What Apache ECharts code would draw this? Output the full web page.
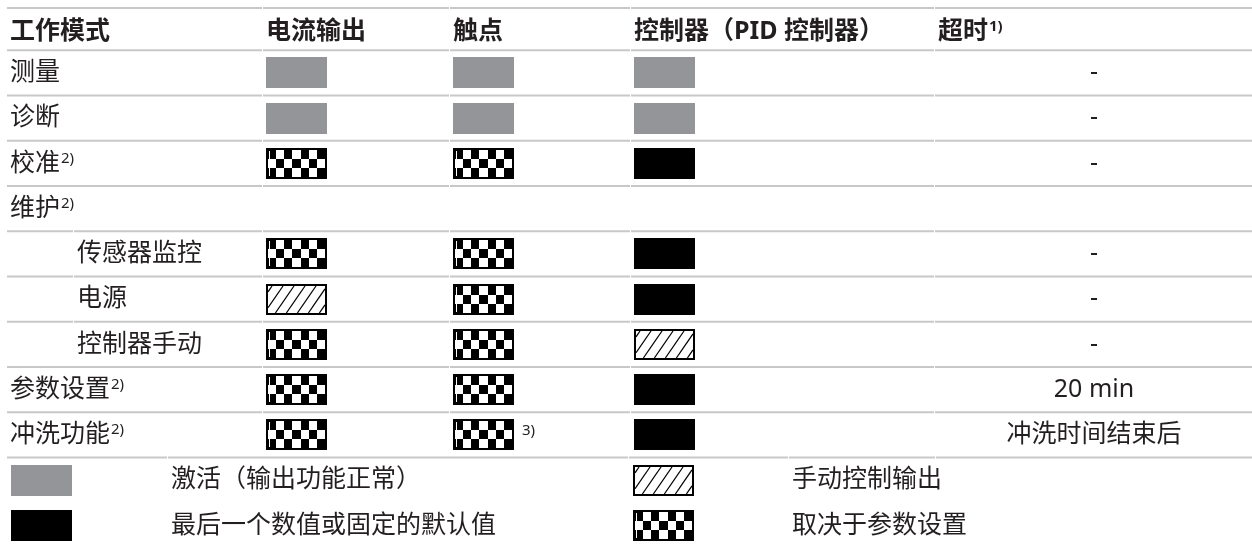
<!DOCTYPE html>
<html><head><meta charset="utf-8">
<script src="https://cdn.jsdelivr.net/npm/echarts@6/dist/echarts.min.js"></script>
<style>html,body{margin:0;padding:0;background:#fff}#c{width:1252px;height:548px}</style>
</head><body><div id="c"></div>
<script>
// ---- data ----
const headers = ['工作模式', '电流输出', '触点', '控制器（PID 控制器）', '超时'];
const headerNotes = ['', '', '', '', '1)'];
const modes = ['测量', '诊断', '校准', '维护', '传感器监控', '电源', '控制器手动', '参数设置', '冲洗功能'];
const modeNotes = ['', '', '2)', '2)', '', '', '', '2)', '2)'];
const modeLevel = [0, 0, 0, 0, 1, 1, 1, 0, 0];
const currentOutput = ['active', 'active', 'param', null, 'param', 'manual', 'param', 'param', 'param'];
const contacts = ['active', 'active', 'param', null, 'param', 'param', 'param', 'param', 'param'];
const contactNotes = ['', '', '', '', '', '', '', '', '3)'];
const controller = ['active', 'active', 'last', null, 'last', 'last', 'manual', 'last', 'last'];
const timeouts = ['-', '-', '-', '', '-', '-', '-', '20 min', '冲洗时间结束后'];
const legendKinds = ['active', 'manual', 'last', 'param'];
const legendLabels = ['激活（输出功能正常）', '手动控制输出', '最后一个数值或固定的默认值', '取决于参数设置'];

// ---- layout / style ----
const COL_X = [10, 266, 453, 634, 938];
const INDENT_X = 77;
const TIMEOUT_CX = 1094;
const LEGEND_BOX_X = [11, 633];
const LEGEND_TEXT_X = [171, 792];
const BOX_W = 61, BOX_H = 31;
const FONT = '"Noto Sans", "Noto Sans CJK SC", sans-serif';
const FS = 25;
const NOTE_FS = 15;
const TEXT_COLOR = '#231f20';
const FILL = { active: '#939598', last: '#000000' };
const RULE_COLOR = '#c8c8c8';
const HEADER_SHIFT = 3;
const BASE_GAPS = [262, 449, 630, 934];

const rowKeys = ['header'].concat(modes, ['legend1', 'legend2']);

// build cells
const cells = [];
headers.forEach((h, i) => cells.push({ kind: 'text', x: COL_X[i], row: 0, text: h, note: headerNotes[i], bold: true, align: 'left' }));
modes.forEach((m, i) => {
  const r = i + 1;
  cells.push({ kind: 'text', x: modeLevel[i] ? INDENT_X : COL_X[0], row: r, text: m, note: modeNotes[i], align: 'left' });
  if (currentOutput[i]) cells.push({ kind: 'box', x: COL_X[1], row: r, box: currentOutput[i] });
  if (contacts[i]) cells.push({ kind: 'box', x: COL_X[2], row: r, box: contacts[i], note: contactNotes[i] });
  if (controller[i]) cells.push({ kind: 'box', x: COL_X[3], row: r, box: controller[i] });
  if (timeouts[i]) cells.push({ kind: 'text', x: TIMEOUT_CX, row: r, text: timeouts[i], align: 'center' });
});
legendKinds.forEach((k, i) => {
  const r = 10 + Math.floor(i / 2), side = i % 2;
  cells.push({ kind: 'box', x: LEGEND_BOX_X[side], row: r, box: k });
  cells.push({ kind: 'text', x: LEGEND_TEXT_X[side], row: r, text: legendLabels[i], align: 'left' });
});

// rules: index k = top edge of row k
const rules = [];
for (let k = 0; k <= 10; k++) {
  let gaps = BASE_GAPS.slice();
  if (k >= 5 && k <= 7) gaps = [73].concat(gaps);
  if (k === 10) gaps = [167, 628, 788, 935];
  rules.push({ row: k, gaps: gaps });
}

function boxEls(kind, x0, yc) {
  const y0 = Math.round(yc - BOX_H / 2), w = BOX_W, h = BOX_H;
  if (kind === 'active' || kind === 'last') {
    return [{ type: 'rect', shape: { x: x0, y: y0, width: w, height: h }, style: { fill: FILL[kind] } }];
  }
  if (kind === 'manual') {
    const els = [{ type: 'rect', shape: { x: x0 + 1, y: y0 + 1, width: w - 2, height: h - 2 }, style: { fill: '#fff', stroke: '#000', lineWidth: 2 } }];
    const ix0 = x0 + 2, ix1 = x0 + w - 2, iy0 = y0 + 2, iy1 = y0 + h - 2, ih = iy1 - iy0;
    const s = 1.45, step = 11;
    for (let a = ix0 - ih / s + 4; a < ix1; a += step) {
      let xs = a, ys = iy1, xe = a + ih / s, ye = iy0;
      if (xs < ix0) { ys = iy1 - s * (ix0 - a); xs = ix0; }
      if (xe > ix1) { ye = iy1 - s * (ix1 - a); xe = ix1; }
      if (xe <= xs) continue;
      els.push({ type: 'line', shape: { x1: xs, y1: ys, x2: xe, y2: ye }, style: { stroke: '#000', lineWidth: 1.3 } });
    }
    return els;
  }
  if (kind === 'param') {
    const els = [{ type: 'rect', shape: { x: x0, y: y0, width: w, height: h }, style: { fill: '#000' } }];
    const ix0 = x0 + 2, iy0 = y0 + 2, iw = w - 4, ih = h - 4, nc = 7, nr = 3;
    const cw = iw / nc, rh = ih / nr;
    for (let r = 0; r < nr; r++) for (let c = 0; c < nc; c++) {
      if ((r + c) % 2 === 1) {
        els.push({ type: 'rect', shape: { x: Math.round(ix0 + c * cw), y: Math.round(iy0 + r * rh), width: Math.round(ix0 + (c + 1) * cw) - Math.round(ix0 + c * cw), height: Math.round(iy0 + (r + 1) * rh) - Math.round(iy0 + r * rh) }, style: { fill: '#fff' } });
      }
    }
    els.push({ type: 'rect', shape: { x: x0 + 3, y: iy0 + 1, width: 1, height: ih - 2 }, style: { fill: '#fff' } });
    return els;
  }
  return [];
}

function textEl(c, x, y) {
  const weight = c.bold ? 'bold' : 'normal';
  const rich = {
    t: { fontSize: FS, fontFamily: FONT, fontWeight: weight, fill: TEXT_COLOR },
    n: { fontSize: NOTE_FS, fontFamily: FONT, fontWeight: weight, fill: TEXT_COLOR, verticalAlign: 'top', padding: [0, 0, 0, 1] }
  };
  const txt = c.note ? '{t|' + c.text + '}{n|' + c.note + '}' : '{t|' + c.text + '}';
  return { type: 'text', x: x, y: y, style: { text: txt, rich: rich, align: c.align, verticalAlign: 'middle' } };
}

const chart = echarts.init(document.getElementById('c'), null, { renderer: 'canvas' });
chart.setOption({
  animation: false,
  grid: { left: 0, right: 0, top: 5, height: 552 },
  xAxis: { type: 'value', min: 0, max: 1252, show: false },
  yAxis: { type: 'category', data: rowKeys, inverse: true, show: false },
  series: [
    {
      type: 'custom', name: 'rules', clip: false,
      data: rules.map(r => [0, r.row]),
      renderItem: function (params, api) {
        const rule = rules[params.dataIndex];
        const p = api.coord([7, api.value(1)]);
        const bandH = api.size([0, 1])[1];
        let y = p[1] - bandH / 2 + (rule.row === 0 ? HEADER_SHIFT : 0);
        const xEnd = api.coord([1252, 0])[0];
        const pts = [p[0]].concat(rule.gaps.reduce((a, g) => a.concat([g, g + 1]), []), [xEnd]);
        const children = [];
        for (let i = 0; i < pts.length; i += 2) {
          children.push({ type: 'line', shape: { x1: pts[i], y1: y, x2: pts[i + 1], y2: y }, style: { stroke: RULE_COLOR, lineWidth: 2 } });
        }
        return { type: 'group', children: children };
      }
    },
    {
      type: 'custom', name: 'cells', clip: false,
      data: cells.map(c => [c.x, c.row]),
      renderItem: function (params, api) {
        const c = cells[params.dataIndex];
        const p = api.coord([api.value(0), api.value(1)]);
        let yc = p[1] + (c.row === 0 ? HEADER_SHIFT + 1 : 0);
        if (c.kind === 'text') {
          return textEl(c, p[0], yc);
        }
        const children = boxEls(c.box, p[0], yc);
        if (c.note) {
          children.push({ type: 'text', x: p[0] + BOX_W + 8, y: yc - 4, style: { text: c.note, fontSize: NOTE_FS, fontFamily: FONT, fill: TEXT_COLOR, verticalAlign: 'middle' } });
        }
        return { type: 'group', children: children };
      }
    }
  ]
});
</script>
</body></html>
